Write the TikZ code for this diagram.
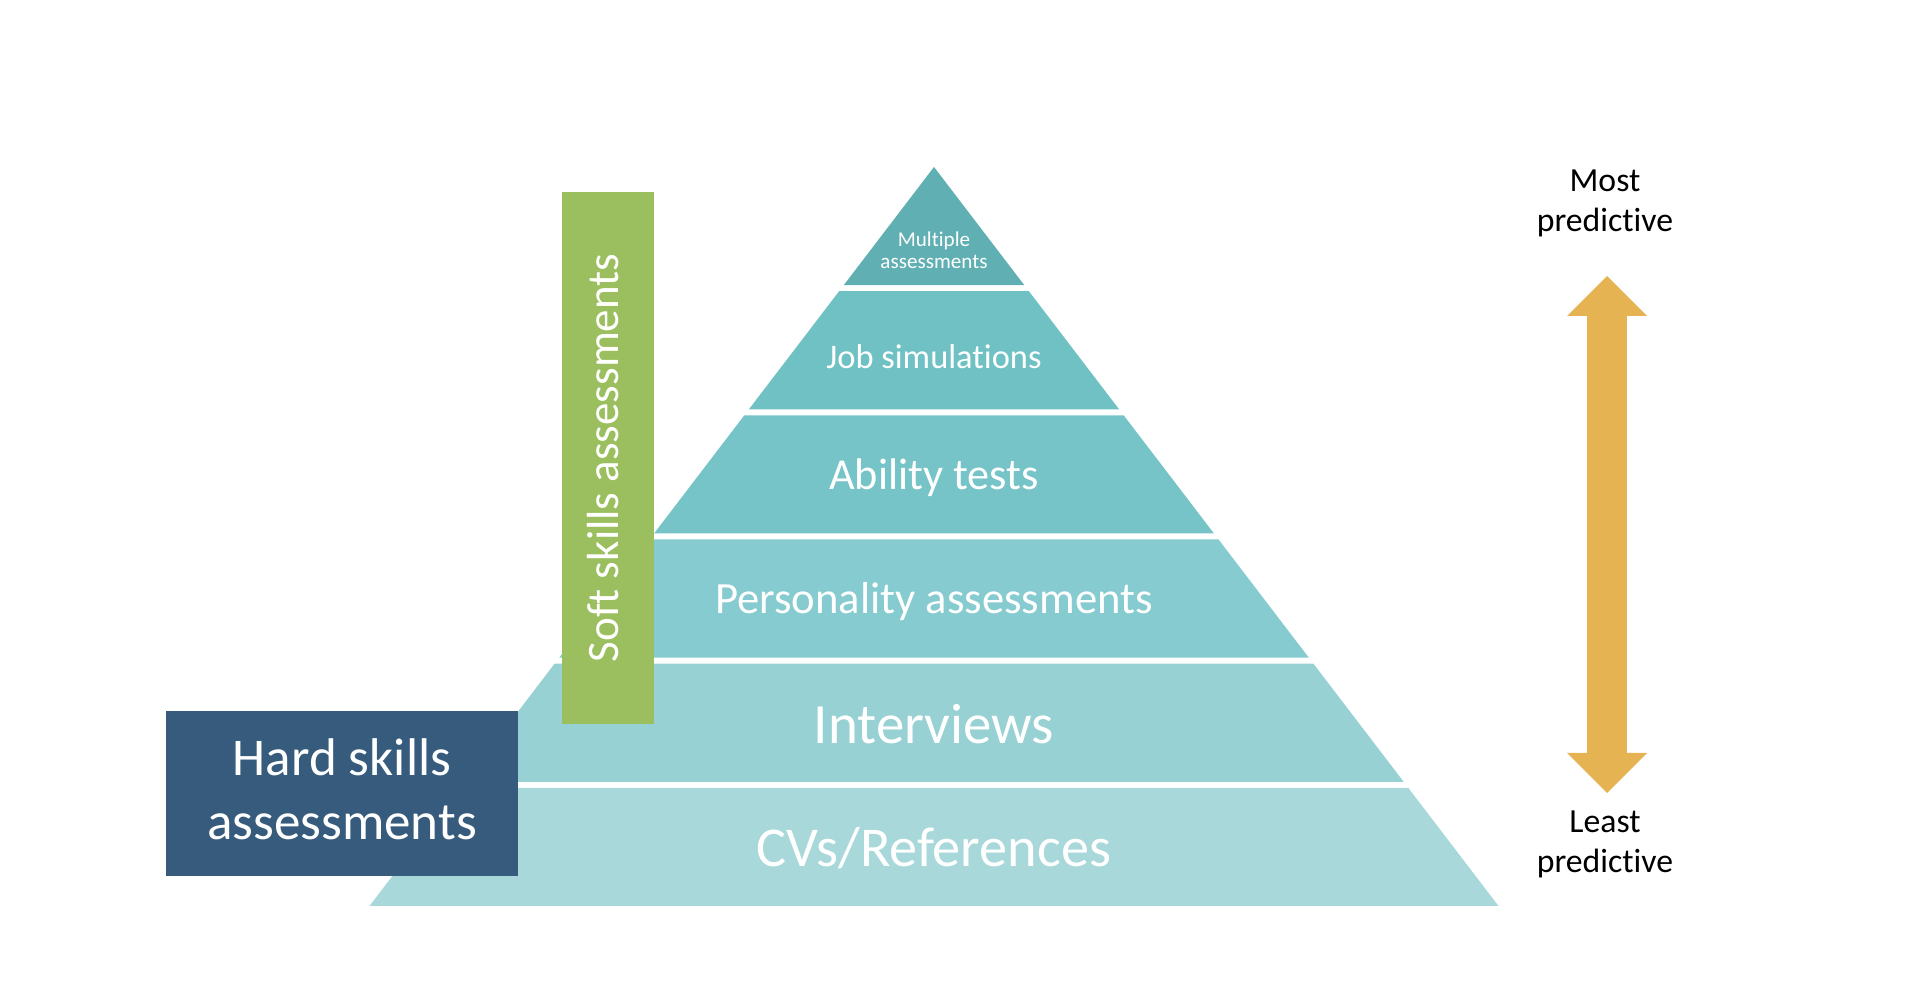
\documentclass[tikz,border=0pt]{standalone}
\usepackage{fontspec}
\setmainfont{Carlito}[Ligatures={NoCommon}]
\usetikzlibrary{arrows.meta}
\definecolor{TierCv}{RGB}{168,216,218}
\definecolor{TierInt}{RGB}{152,209,212}
\definecolor{TierPers}{RGB}{134,203,207}
\definecolor{TierAbil}{RGB}{118,196,200}
\definecolor{TierJob}{RGB}{111,193,196}
\definecolor{TierMult}{RGB}{96,176,179}
\definecolor{HardBlue}{RGB}{54,91,125}
\definecolor{SoftGreen}{RGB}{155,191,95}
\definecolor{PredGold}{RGB}{229,179,81}
\tikzset{
  tierlabel/.style={text=white,inner sep=0pt,align=center},
  hardbox/.style={fill=HardBlue,inner sep=0pt,minimum width=3.52cm,minimum height=1.65cm},
  softbox/.style={fill=SoftGreen,inner sep=0pt,minimum width=0.92cm,minimum height=5.32cm},
  sidelabel/.style={text=black,inner sep=0pt,align=center},
  predarrow/.style={draw=PredGold,line width=0.4cm,
    {Triangle[width=0.8cm,length=0.4cm,line width=0pt]}-{Triangle[width=0.8cm,length=0.4cm,line width=0pt]}},
}
\begin{document}
\begin{tikzpicture}
\useasboundingbox (0,0) rectangle (19.14,9.88);
% pyramid tiers, bottom to top
\foreach \k/\col in {0/TierCv,1/TierInt,2/TierPers,3/TierAbil,4/TierJob,5/TierMult}{
  \pgfmathsetmacro\yb{0.82+\k*1.2417}
  \pgfmathsetmacro\yt{\yb+1.1817}
  \pgfmathsetmacro\wb{0.76387*(8.21-\yb)}
  \pgfmathsetmacro\wt{max(0,0.76387*(8.21-\yt))}
  \fill[\col] (9.34-\wb,\yb) -- (9.34+\wb,\yb) -- (9.34+\wt,\yt) -- (9.34-\wt,\yt) -- cycle;
}
\node[tierlabel,font=\fontsize{16}{19}\selectfont] (cvs) at (9.34,1.40) {CVs/References};
\node[tierlabel,font=\fontsize{16.2}{19}\selectfont] (interviews) at (9.34,2.64) {Interviews};
\node[tierlabel,font=\fontsize{12.7}{15}\selectfont] (personality) at (9.34,3.86) {Personality assessments};
\node[tierlabel,font=\fontsize{12.6}{15}\selectfont] (ability) at (9.34,5.10) {Ability tests};
\node[tierlabel,font=\fontsize{9.8}{12}\selectfont] (jobsim) at (9.34,6.31) {Job simulations};
\node[tierlabel,font=\fontsize{6}{6.3}\selectfont] (multiple) at (9.34,7.38) {Multiple\\assessments};
% skill boxes
\node[hardbox] (hard) at (3.42,1.945) {};
\node[tierlabel,font=\fontsize{15.1}{18.1}\selectfont] (hardlbl) at (3.42,1.99) {Hard skills\\assessments};
\node[softbox] (soft) at (6.08,5.30) {};
\node[tierlabel,rotate=90,font=\fontsize{12.8}{15}\selectfont] (softlbl) at (6.03,5.30) {Soft skills assessments};
% predictiveness scale
\node[sidelabel,font=\fontsize{9.6}{11.4}\selectfont] (most) at (16.05,7.85) {Most\\predictive};
\node[sidelabel,font=\fontsize{9.6}{11.4}\selectfont] (least) at (16.05,1.44) {Least\\predictive};
\coordinate (arrtop) at (16.07,7.12);
\coordinate (arrbot) at (16.07,1.95);
\draw[predarrow] (arrbot) -- (arrtop);
\end{tikzpicture}
\end{document}
